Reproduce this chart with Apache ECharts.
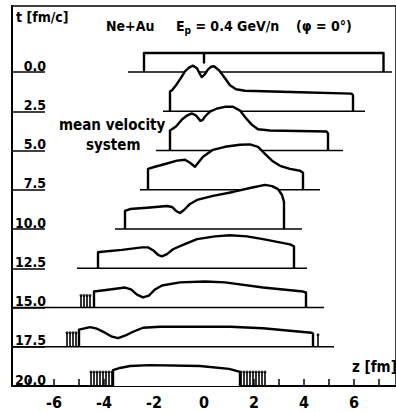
<!DOCTYPE html>
<html>
<head>
<meta charset="utf-8">
<script src="https://cdn.jsdelivr.net/npm/echarts@6/dist/echarts.min.js"></script>
<style>html,body{margin:0;padding:0;background:#fff}#c{width:396px;height:412px}</style>
</head>
<body>
<div id="c"></div>
<script>
// ---------------- data ----------------
const times = [0.0, 2.5, 5.0, 7.5, 10.0, 12.5, 15.0, 17.5, 20.0];
const xTickLabels = [-6, -4, -2, 0, 2, 4, 6];
const xMinorTicks = [-7, -6, -5, -4, -3, -2, -1, 0, 1, 2, 3, 4, 5, 6, 7];
// density profiles [z (fm), height (rel. units)]
const prof00 = [[-2.4,0],[-2.4,1.0],[0,1.0],[0,0.5],[0,1.0],[7.18,1.0],[7.18,0]];
const prof25 = [[-1.36,0],[-1.36,1.05],[-1.28,1.1],[-1.12,1.37],[-0.96,1.68],[-0.76,2.1],[-0.6,2.3],[-0.44,2.4],[-0.28,2.26],[-0.16,1.95],[-0.09,1.8],[0.04,1.95],[0.16,2.2],[0.28,2.34],[0.4,2.37],[0.6,2.16],[0.84,1.74],[1.04,1.37],[1.28,1.16],[1.64,1.08],[3.84,1.0],[5.9,0.93],[5.96,0.85],[5.96,0]];
const prof50 = [[-1.36,0],[-1.36,1.05],[-1.12,1.26],[-0.88,1.63],[-0.68,1.84],[-0.48,1.95],[-0.32,1.84],[-0.14,1.56],[-0.06,1.6],[0.04,1.79],[0.24,2.05],[0.52,2.21],[0.84,2.3],[1.16,2.3],[1.44,2.1],[1.68,1.7],[1.92,1.35],[2.16,1.12],[2.64,1.05],[4.9,1.0],[4.96,0.9],[4.96,0]];
const prof75 = [[-2.24,0],[-2.24,1.1],[-1.96,1.21],[-1.52,1.37],[-1.08,1.53],[-0.76,1.58],[-0.56,1.42],[-0.36,1.21],[-0.2,1.47],[-0.04,1.74],[0.36,2.1],[0.84,2.26],[1.44,2.37],[1.84,2.39],[2.16,2.26],[2.44,1.89],[2.72,1.53],[3.04,1.26],[3.44,1.1],[3.84,1.0],[3.96,0.89],[3.96,0]];
const prof100 = [[-3.16,0],[-3.16,0.95],[-2.96,1.05],[-2.16,1.13],[-1.48,1.21],[-1.28,1.16],[-1.12,0.95],[-0.96,0.84],[-0.8,1.0],[-0.56,1.32],[-0.28,1.53],[0.36,1.74],[1.16,1.95],[1.84,2.16],[2.44,2.32],[2.72,2.26],[2.96,2.1],[3.12,1.79],[3.2,1.42],[3.2,0]];
const prof125 = [[-4.24,0],[-4.24,0.84],[-4.08,0.87],[-3.28,0.97],[-2.48,1.1],[-2.24,1.1],[-2.04,0.95],[-1.84,0.71],[-1.68,0.63],[-1.48,0.74],[-1.24,1.0],[-0.96,1.16],[-0.28,1.53],[0.44,1.68],[1.04,1.74],[1.72,1.68],[2.36,1.53],[3.44,1.26],[3.6,1.16],[3.6,0]];
const prof150 = [[-4.4,0],[-4.4,0.84],[-3.76,0.95],[-3.16,1.05],[-2.92,0.95],[-2.68,0.68],[-2.44,0.53],[-2.2,0.63],[-1.96,0.95],[-1.68,1.16],[-0.96,1.32],[0.04,1.37],[0.84,1.32],[2.36,1.05],[3.96,0.84],[4.08,0.79],[4.08,0]];
const prof175 = [[-5.0,0],[-5.0,0.9],[-4.56,1.03],[-4.28,0.95],[-3.96,0.74],[-3.68,0.53],[-3.44,0.45],[-3.16,0.58],[-2.84,0.79],[-2.44,1.0],[-1.76,1.05],[1.04,1.05],[2.36,0.97],[4.3,0.74],[4.36,0.7],[4.36,0]];
const prof200 = [[-3.64,0],[-3.64,0.84],[-3.36,0.95],[-2.96,1.05],[-2.16,1.1],[-0.16,1.05],[1.0,0.9],[1.44,0.74],[1.44,0]];
const profiles = [prof00, prof25, prof50, prof75, prof100, prof125, prof150, prof175, prof200];
// baseline extents [zStart, zEnd] per time row (null: x-axis itself)
const baselineSpans = [[-3.04,7.52],[-1.64,6.44],[-1.92,5.56],[-2.56,4.64],[-3.56,3.92],[-5.08,4.12],[-7.68,4.8],[-7.68,5.2],null];
// emitted fragment marks [z, height]
const fringe150 = [[-4.92,0.63],[-4.8,0.63],[-4.68,0.63],[-4.56,0.63]];
const fringe175 = [[-5.48,0.74],[-5.36,0.74],[-5.24,0.74],[-5.12,0.74],[4.56,0.63]];
const fringe200 = [[-4.52,0.74],[-4.4,0.74],[-4.28,0.74],[-4.16,0.74],[-4.04,0.74],[-3.92,0.74],[-3.8,0.74],[-3.68,0.74],
                   [1.48,0.74],[1.6,0.74],[1.72,0.74],[1.84,0.74],[1.96,0.74],[2.08,0.74],[2.2,0.74],[2.32,0.74],[2.44,0.74]];
const fringes = [null, null, null, null, null, null, fringe150, fringe175, fringe200];

// ---------------- layout ----------------
const W = 396, H = 412;
const FL = 12, FT = 6, AXY = 386, FIRST = 72;
const ZMIN = -7.68, ZMAX = 7.68;
const UNIT = 19, STRIP = 57;
const rowGap = (AXY - FIRST) / (times.length - 1);
const tStep = times[1] - times[0];
const tTop = -(FIRST - FT) / rowGap * tStep;
const FONT = '"DejaVu Sans Condensed","DejaVu Sans",sans-serif';

const grids = [{left: FL, right: -3, top: FT, bottom: H - AXY, show: true, borderColor: '#000', borderWidth: 1.5, backgroundColor: 'transparent'}];
const xAxes = [{
  gridIndex: 0, type: 'value', min: ZMIN, max: ZMAX, position: 'bottom',
  axisLine: {onZero: false, lineStyle: {color: '#000', width: 2}},
  axisTick: {inside: true, length: 7, customValues: xMinorTicks, lineStyle: {color: '#000', width: 1.5}},
  axisLabel: {customValues: xTickLabels, color: '#000', fontSize: 16, fontWeight: 'bold', fontFamily: FONT, margin: 8,
              formatter: v => String(v)},
  splitLine: {show: false}
}];
const yAxes = [{
  gridIndex: 0, type: 'value', inverse: true, min: tTop, max: times[times.length - 1], position: 'left',
  axisLine: {onZero: false, lineStyle: {color: '#000', width: 2}},
  axisTick: {inside: true, length: 33, customValues: times, lineStyle: {color: '#000', width: 1.5}},
  axisLabel: {customValues: times, inside: true, align: 'right', margin: 34, verticalAlign: 'bottom', lineHeight: 13,
              color: '#000', fontSize: 14, fontWeight: 'bold', fontFamily: FONT, formatter: v => v.toFixed(1)},
  splitLine: {show: false}
}];
const series = [];
times.forEach((t, i) => {
  const base = FIRST + i * rowGap;
  grids.push({left: FL, right: -3, top: base - STRIP, height: STRIP, show: false});
  xAxes.push({gridIndex: i + 1, type: 'value', min: ZMIN, max: ZMAX, show: false});
  yAxes.push({gridIndex: i + 1, type: 'value', min: 0, max: STRIP / UNIT, show: false});
  series.push({
    type: 'line', xAxisIndex: i + 1, yAxisIndex: i + 1, data: profiles[i], symbol: 'none', clip: false,
    lineStyle: {color: '#000', width: 2.4, join: 'round'}, areaStyle: {color: '#fff', opacity: 1},
    z: 10 + i * 2, silent: true, animation: false
  });
  if (baselineSpans[i]) {
    series.push({
      type: 'line', xAxisIndex: i + 1, yAxisIndex: i + 1, data: baselineSpans[i].map(z => [z, 0]), symbol: 'none', clip: false,
      lineStyle: {color: '#000', width: 1.6}, z: 10 + i * 2, silent: true, animation: false
    });
  }
  if (fringes[i]) {
    series.push({
      type: 'bar', xAxisIndex: i + 1, yAxisIndex: i + 1, data: fringes[i], barWidth: 1.6,
      itemStyle: {color: '#000'}, z: 10 + i * 2 + 1, silent: true, animation: false
    });
    series.push({
      type: 'scatter', xAxisIndex: i + 1, yAxisIndex: i + 1, data: fringes[i], symbol: 'circle', symbolSize: 3,
      itemStyle: {color: '#000'}, z: 10 + i * 2 + 1, silent: true, animation: false
    });
  }
});

const txt = {fill: '#000', fontFamily: FONT, fontWeight: 'bold'};
const chart = echarts.init(document.getElementById('c'), null, {renderer: 'svg', width: W, height: H});
chart.setOption({
  animation: false,
  backgroundColor: '#fff',
  grid: grids, xAxis: xAxes, yAxis: yAxes, series: series,
  graphic: [
    {type: 'text', left: 16, top: 10, z: 100, style: Object.assign({text: 't [fm/c]', fontSize: 14}, txt)},
    {type: 'text', left: 106, top: 19, z: 100, style: Object.assign({text: 'Ne+Au', fontSize: 14}, txt)},
    {type: 'text', left: 176, top: 19, z: 100, style: Object.assign({
      text: 'E{s|p} = 0.4 GeV/n', fontSize: 14,
      rich: {s: {fontSize: 10, fontFamily: FONT, fontWeight: 'bold', fill: '#000', padding: [8, 0, 0, 0]}}}, txt)},
    {type: 'text', left: 296, top: 19, z: 100, style: Object.assign({text: '(φ = 0°)', fontSize: 14}, txt)},
    {type: 'text', left: 59, top: 117, z: 100, style: Object.assign({text: 'mean velocity', fontSize: 15}, txt)},
    {type: 'text', left: 86, top: 137, z: 100, style: Object.assign({text: 'system', fontSize: 15}, txt)},
    {type: 'text', left: 352, top: 359, z: 100, style: Object.assign({text: 'z [fm]', fontSize: 15}, txt)}
  ]
});
</script>
</body>
</html>
